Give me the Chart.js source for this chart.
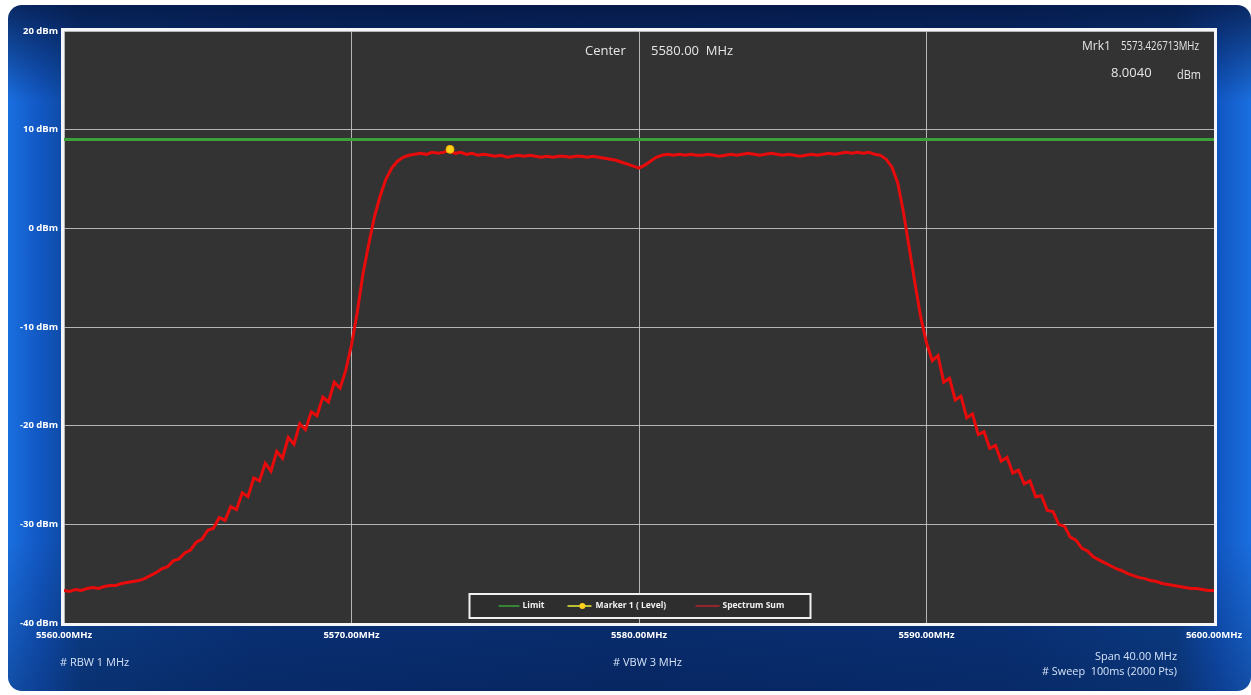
<!DOCTYPE html>
<html>
<head>
<meta charset="utf-8">
<title>Spectrum Sum</title>
<script src="https://cdn.jsdelivr.net/npm/chart.js@4.4.1/dist/chart.umd.min.js"></script>
<style>
  html, body { margin: 0; padding: 0; background: #ffffff; width: 1251px; height: 695px; overflow: hidden; }
  #panel {
    position: absolute; left: 8px; top: 5px; width: 1243px; height: 686px;
    border-radius: 14px;
    background:
      linear-gradient(to bottom, rgba(4,18,58,0.75) 0%, rgba(4,18,58,0.0) 14%, rgba(4,18,58,0.0) 78%, rgba(4,18,58,0.35) 100%),
      linear-gradient(to right, #1a6fe0 0%, #1258c4 2.5%, #0c428f 6%, #0a3680 20%, #093278 50%, #0a3680 80%, #0c428f 94%, #1258c4 97.5%, #1a6fe0 100%);
  }
  #wrap { position: absolute; left: 0; top: 0; width: 1251px; height: 695px; }
</style>
</head>
<body>
<div id="panel"></div>
<div id="wrap"><canvas id="chart" width="1251" height="695"></canvas></div>
<script>
// Sweep settings (MHz)
const sweepStart = 5560;
const sweepStop = 5600;

// Measured trace, dBm, one value per 0.2 MHz from 5560 to 5600 MHz
const spectrumDbm = [
  -36.7, -36.8, -36.6, -36.7, -36.5,   // 5560
  -36.4, -36.5, -36.3, -36.2, -36.2,   // 5561
  -36.0, -35.9, -35.8, -35.7, -35.5,   // 5562
  -35.2, -34.9, -34.5, -34.3, -33.7,   // 5563
  -33.5, -32.9, -32.6, -31.8, -31.5,   // 5564
  -30.6, -30.4, -29.3, -29.6, -28.2,   // 5565
  -28.5, -26.8, -27.2, -25.3, -25.6,   // 5566
  -23.8, -24.6, -22.6, -23.3, -21.2,   // 5567
  -21.9, -19.8, -20.4, -18.6, -19.0,   // 5568
  -17.1, -17.6, -15.6, -16.2, -14.4,   // 5569
  -11.8,  -8.5,  -4.6,  -1.6,   1.2,   // 5570
    3.3,   5.0,   6.1,   6.8,   7.2,   // 5571
    7.4,   7.5,   7.6,   7.5,   7.7,   // 5572
    7.6,   7.7,   7.9,   7.6,   7.7,   // 5573
    7.5,   7.6,   7.4,   7.5,   7.4,   // 5574
    7.3,   7.4,   7.2,   7.3,   7.4,   // 5575
    7.3,   7.4,   7.3,   7.2,   7.3,   // 5576
    7.2,   7.3,   7.3,   7.2,   7.3,   // 5577
    7.3,   7.2,   7.3,   7.2,   7.1,   // 5578
    7.0,   6.9,   6.7,   6.5,   6.3,   // 5579
    6.1,   6.4,   6.8,   7.2,   7.4,   // 5580
    7.5,   7.4,   7.5,   7.4,   7.5,   // 5581
    7.4,   7.4,   7.5,   7.4,   7.3,   // 5582
    7.4,   7.5,   7.4,   7.5,   7.6,   // 5583
    7.5,   7.4,   7.5,   7.6,   7.5,   // 5584
    7.4,   7.5,   7.4,   7.3,   7.4,   // 5585
    7.5,   7.4,   7.5,   7.6,   7.5,   // 5586
    7.6,   7.7,   7.6,   7.7,   7.6,   // 5587
    7.7,   7.5,   7.4,   7.0,   6.2,   // 5588
    4.6,   1.6,  -2.0,  -5.6,  -9.0,   // 5589
  -11.6, -13.4, -12.9, -15.6, -15.2,   // 5590
  -17.4, -17.0, -19.2, -18.8, -20.9,   // 5591
  -20.6, -22.3, -22.0, -23.6, -23.2,   // 5592
  -24.8, -24.5, -25.9, -25.6, -27.2,   // 5593
  -27.1, -28.6, -28.7, -30.0, -30.2,   // 5594
  -31.3, -31.6, -32.4, -32.7, -33.3,   // 5595
  -33.6, -33.9, -34.2, -34.5, -34.7,   // 5596
  -35.0, -35.2, -35.4, -35.5, -35.7,   // 5597
  -35.8, -36.0, -36.1, -36.2, -36.3,   // 5598
  -36.4, -36.5, -36.5, -36.6, -36.7,   // 5599
  -36.7                                // 5600
];

// Limit line level (dBm)
const limitDbm = 9.0;

// Marker 1
const markerFreqMHz = 5573.426713;
const markerLevelDbm = 8.0040;

// Axis ticks
const freqTicks = [5560, 5570, 5580, 5590, 5600];
const levelTicks = [20, 10, 0, -10, -20, -30, -40];

// Text around the trace
const centerText = ['Center', '5580.00  MHz'];
const markerText = ['Mrk1', '5573.426713MHz', '8.0040', 'dBm'];
const footerText = ['# RBW 1 MHz', '# VBW 3 MHz', 'Span 40.00 MHz', '# Sweep  100ms (2000 Pts)'];

// frequency of each trace sample on the uniform sweep grid
const stepMHz = (sweepStop - sweepStart) / (spectrumDbm.length - 1);
const spectrumPoints = spectrumDbm.map((v, i) => ({ x: sweepStart + i * stepMHz, y: v }));

const UI_FONT = '"Open Sans", "Liberation Sans", sans-serif';

// dark plot background + white frame around the plotting area
const plotFrame = {
  id: 'plotFrame',
  beforeDraw(chart) {
    const { ctx, chartArea: a } = chart;
    ctx.save();
    ctx.fillStyle = '#333333';
    ctx.fillRect(a.left, a.top, a.right - a.left, a.bottom - a.top);
    ctx.restore();
  },
  afterDraw(chart) {
    const { ctx, chartArea: a } = chart;
    ctx.save();
    ctx.strokeStyle = '#f4f6fa';
    ctx.lineWidth = 3;
    ctx.strokeRect(a.left - 1.5, a.top - 1.5, a.right - a.left + 3, a.bottom - a.top + 3);
    ctx.restore();
  }
};

// readouts: center frequency, marker, bandwidth/sweep notes
const readouts = {
  id: 'readouts',
  afterDraw(chart) {
    const { ctx } = chart;
    ctx.save();
    ctx.textBaseline = 'middle';
    ctx.fillStyle = '#e6e6e6';
    ctx.font = '13px ' + UI_FONT;
    ctx.textAlign = 'left';
    ctx.fillText(centerText[0], 585, 51, 44);
    ctx.fillText(centerText[1], 651, 51, 91);
    ctx.font = '12px ' + UI_FONT;
    ctx.fillText(markerText[0], 1082, 47, 31);
    ctx.fillText(markerText[1], 1121, 47, 78);
    ctx.font = '13px ' + UI_FONT;
    ctx.fillText(markerText[2], 1111, 73, 44);
    ctx.fillText(markerText[3], 1177, 75, 24);

    ctx.fillStyle = '#d4e2f7';
    ctx.font = '11px ' + UI_FONT;
    ctx.textAlign = 'left';
    ctx.fillText(footerText[0], 60, 663, 70);
    ctx.fillText(footerText[1], 613, 663, 70);
    ctx.textAlign = 'right';
    ctx.fillText(footerText[2], 1177, 657, 82);
    ctx.fillText(footerText[3], 1177, 672, 135);
    ctx.restore();
  }
};

// boxed legend sitting inside the plot, near the bottom
const boxLegend = {
  id: 'boxLegend',
  afterDraw(chart) {
    const { ctx, chartArea: a } = chart;
    const w = 341, h = 24;
    const x0 = (a.left + a.right) / 2 - w / 2 + 1;
    const y0 = a.bottom - 5 - h;
    ctx.save();
    ctx.fillStyle = '#2e2e2e';
    ctx.fillRect(x0, y0, w, h);
    ctx.strokeStyle = '#f0f0f0';
    ctx.lineWidth = 2;
    ctx.strokeRect(x0, y0, w, h);
    const cy = y0 + h / 2;
    const items = [
      { ds: 0, lx: 29, lw: 21, tx: 53 },
      { ds: 1, lx: 98, lw: 24, tx: 126 },
      { ds: 2, lx: 226, lw: 24, tx: 253 }
    ];
    ctx.font = 'bold 8.5px ' + UI_FONT;
    ctx.textBaseline = 'middle';
    ctx.textAlign = 'left';
    items.forEach(it => {
      const ds = chart.data.datasets[it.ds];
      ctx.strokeStyle = ds.legendLine || ds.borderColor;
      ctx.lineWidth = 1.5;
      ctx.beginPath();
      ctx.moveTo(x0 + it.lx, cy);
      ctx.lineTo(x0 + it.lx + it.lw, cy);
      ctx.stroke();
      if (ds.pointRadius > 0) {
        ctx.fillStyle = ds.pointBackgroundColor;
        ctx.beginPath();
        ctx.arc(x0 + it.lx + it.lw * 0.62, cy, 3, 0, Math.PI * 2);
        ctx.fill();
      }
      ctx.fillStyle = '#f2f2f2';
      ctx.fillText(ds.label, x0 + it.tx, cy);
    });
    ctx.restore();
  }
};

new Chart(document.getElementById('chart'), {
  type: 'line',
  data: {
    datasets: [
      {
        label: 'Limit',
        data: [{ x: sweepStart, y: limitDbm }, { x: sweepStop, y: limitDbm }],
        borderColor: '#3ba23b',
        borderWidth: 3,
        pointRadius: 0,
        order: 3
      },
      {
        label: 'Marker 1 ( Level)',
        data: [{ x: markerFreqMHz, y: markerLevelDbm }],
        borderColor: '#f2e60f',
        legendLine: '#e8ef3a',
        showLine: false,
        pointRadius: 4,
        pointBackgroundColor: '#ffd21a',
        pointBorderColor: '#f0a800',
        pointBorderWidth: 1,
        order: 1
      },
      {
        label: 'Spectrum Sum',
        data: spectrumPoints,
        borderColor: '#e80b0b',
        legendLine: '#b8222e',
        borderWidth: 3,
        pointRadius: 0,
        tension: 0,
        order: 2
      }
    ]
  },
  options: {
    responsive: false,
    animation: false,
    events: [],
    layout: { padding: { left: 0, right: 37, top: 31, bottom: 0 } },
    plugins: { legend: { display: false }, tooltip: { enabled: false } },
    scales: {
      x: {
        type: 'linear',
        min: sweepStart,
        max: sweepStop,
        afterFit(scale) { scale.height = 72; },
        afterBuildTicks(scale) { scale.ticks = freqTicks.map(v => ({ value: v })); },
        ticks: {
          color: '#ffffff',
          font: { family: UI_FONT, size: 9.5, weight: 'bold' },
          padding: 7,
          maxRotation: 0,
          autoSkip: false,
          callback: v => v.toFixed(2) + 'MHz'
        },
        grid: { color: 'rgba(205,205,205,0.85)', lineWidth: 1, drawTicks: false },
        border: { display: false }
      },
      y: {
        type: 'linear',
        min: -40,
        max: 20,
        afterFit(scale) { scale.width = 64; },
        afterBuildTicks(scale) { scale.ticks = levelTicks.map(v => ({ value: v })); },
        ticks: {
          color: '#ffffff',
          font: { family: UI_FONT, size: 9.5, weight: 'bold' },
          padding: 6,
          autoSkip: false,
          callback: v => v + ' dBm'
        },
        grid: { color: 'rgba(205,205,205,0.85)', lineWidth: 1, drawTicks: false },
        border: { display: false }
      }
    }
  },
  plugins: [plotFrame, readouts, boxLegend]
});
</script>
</body>
</html>
